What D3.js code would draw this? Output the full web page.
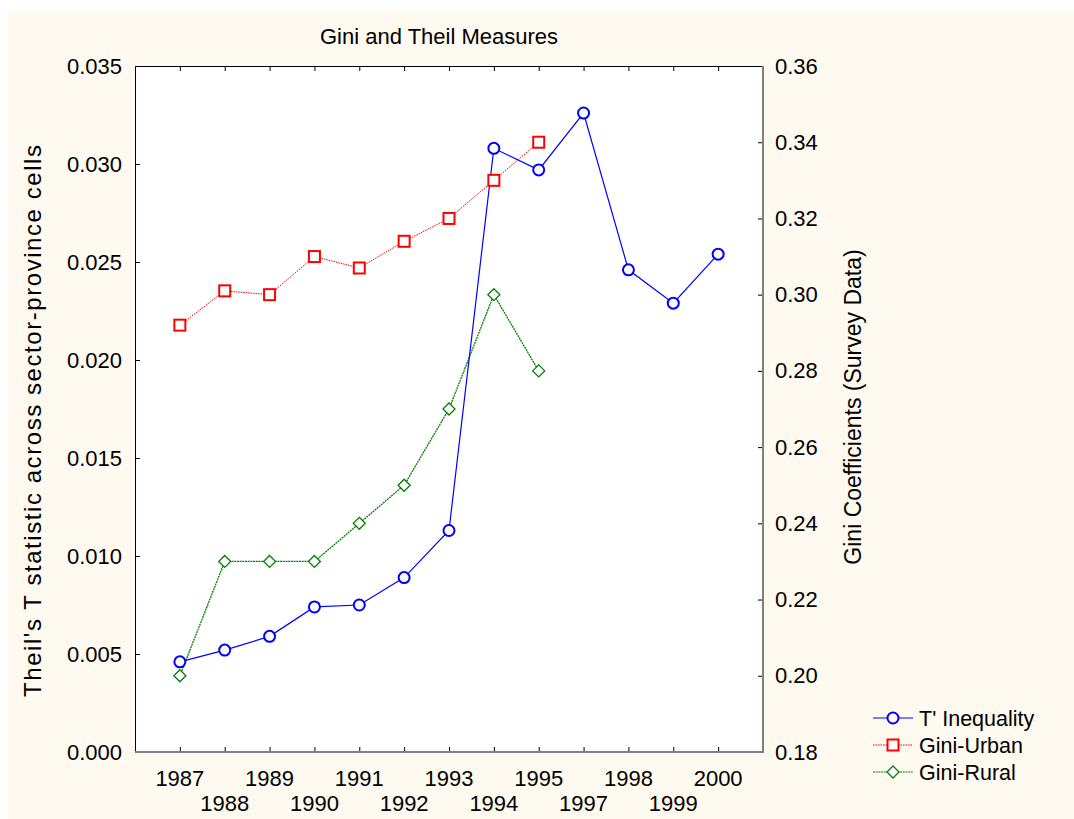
<!DOCTYPE html>
<html><head><meta charset="utf-8">
<script src="https://cdn.jsdelivr.net/npm/d3@7"></script>
<style>body{margin:0;background:#fff;} svg{display:block;font-family:"Liberation Sans",Arial,sans-serif;}</style>
</head><body><svg id="c" width="1074" height="819"></svg>
<script>
const years = ["1987","1988","1989","1990","1991","1992","1993","1994","1995","1997","1998","1999","2000"];
const theil = [0.0046,0.0052,0.0059,0.0074,0.0075,0.0089,0.0113,0.0308,0.0297,0.0326,0.0246,0.0229,0.0254];
const giniUrban = [0.292,0.301,0.300,0.310,0.307,0.314,0.320,0.330,0.340];
const giniRural = [0.200,0.230,0.230,0.230,0.240,0.250,0.270,0.300,0.280];
const leftTicks = [0,0.005,0.010,0.015,0.020,0.025,0.030,0.035];
const rightTicks = [0.18,0.20,0.22,0.24,0.26,0.28,0.30,0.32,0.34,0.36];
const legendLabels = ["T' Inequality","Gini-Urban","Gini-Rural"];
const title = "Gini and Theil Measures";
const yLabelLeft = "Theil's T statistic across sector-province cells";
const yLabelRight = "Gini Coefficients (Survey Data)";

const svg = d3.select("#c");
const L=135, R=763, T=66, B=752;
svg.append("rect").attr("x",8).attr("y",10).attr("width",1066).attr("height",809).attr("fill","#fffaef");
svg.append("rect").attr("x",L).attr("y",T).attr("width",R-L).attr("height",B-T).attr("fill","#fff");

const x = d3.scalePoint().domain(years).range([L,R]).padding(1);
const yL = d3.scaleLinear().domain([0,0.035]).range([B,T]);
const yR = d3.scaleLinear().domain([0.18,0.36]).range([B,T]);
const fs = 22;

// axes
const gl = svg.append("g").attr("transform",`translate(${L},0)`)
  .call(d3.axisLeft(yL).tickValues(leftTicks).tickFormat(d3.format(".3f")).tickSizeInner(-5).tickSizeOuter(0).tickPadding(13));
const gr = svg.append("g").attr("transform",`translate(${R},0)`)
  .call(d3.axisRight(yR).tickValues(rightTicks).tickFormat(d3.format(".2f")).tickSizeInner(-5).tickSizeOuter(0).tickPadding(12));
const gb = svg.append("g").attr("transform",`translate(0,${B})`)
  .call(d3.axisBottom(x).tickSizeInner(-5).tickSizeOuter(0).tickFormat(""));
const gt = svg.append("g").attr("transform",`translate(0,${T})`)
  .call(d3.axisTop(x).tickSizeInner(-5).tickSizeOuter(0).tickFormat(""));
[gl,gr,gb,gt].forEach(g=>{g.selectAll("text").attr("font-size",fs).attr("fill","#000").attr("font-family","Liberation Sans, Arial, sans-serif");
  g.selectAll(".domain").remove(); g.selectAll(".tick line").attr("stroke","#000");});
// x labels staggered
svg.append("g").selectAll("text").data(years).join("text")
  .attr("x",d=>x(d)).attr("y",(d,i)=> i%2===0 ? 786 : 811)
  .attr("text-anchor","middle").attr("font-size",fs).text(d=>d);
// frame
svg.append("line").attr("x1",L).attr("x2",R).attr("y1",T+0.5).attr("y2",T+0.5).attr("stroke","#000");
svg.append("line").attr("x1",L+0.5).attr("x2",L+0.5).attr("y1",T).attr("y2",B).attr("stroke","#000");
svg.append("line").attr("x1",R).attr("x2",R).attr("y1",T).attr("y2",B+1).attr("stroke","#808080").attr("stroke-width",2);
svg.append("line").attr("x1",L).attr("x2",R+1).attr("y1",B).attr("y2",B).attr("stroke","#808080").attr("stroke-width",2);

// titles
svg.append("text").attr("x",439).attr("y",44).attr("text-anchor","middle").attr("font-size",22).text(title);
svg.append("text").attr("transform",`translate(41,${421}) rotate(-90)`).attr("text-anchor","middle").attr("font-size",24)
  .attr("textLength",552).attr("lengthAdjust","spacing").text(yLabelLeft);
svg.append("text").attr("transform",`translate(861,${407}) rotate(-90)`).attr("text-anchor","middle").attr("font-size",23).text(yLabelRight);

// series
const blue="#0000ff", red="#ff0000", green="#008000";
const lineT = d3.line().x((d,i)=>x(years[i])).y(d=>yL(d));
const lineR = d3.line().x((d,i)=>x(years[i])).y(d=>yR(d));
svg.append("path").attr("d",lineR(giniUrban)).attr("fill","none").attr("stroke",red).attr("stroke-width",1).attr("stroke-dasharray","1.5,1");
svg.append("path").attr("d",lineR(giniRural)).attr("fill","none").attr("stroke",green).attr("stroke-width",1.3).attr("stroke-dasharray","2,0.7");
svg.append("path").attr("d",lineT(theil)).attr("fill","none").attr("stroke",blue).attr("stroke-width",1.2);

function square(g,cx,cy){g.append("rect").attr("x",cx-5.5).attr("y",cy-5.5).attr("width",11).attr("height",11).attr("fill","#fff").attr("stroke",red).attr("stroke-width",2);}
function diamond(g,cx,cy){g.append("path").attr("d",`M${cx},${cy-6}L${cx+6},${cy}L${cx},${cy+6}L${cx-6},${cy}Z`).attr("fill","#fff").attr("stroke",green).attr("stroke-width",1.3);}
function circle(g,cx,cy){g.append("circle").attr("cx",cx).attr("cy",cy).attr("r",5.5).attr("fill","#fff").attr("stroke",blue).attr("stroke-width",2);}
const gm = svg.append("g");
giniUrban.forEach((v,i)=>square(gm,x(years[i]),yR(v)));
giniRural.forEach((v,i)=>diamond(gm,x(years[i]),yR(v)));
theil.forEach((v,i)=>circle(gm,x(years[i]),yL(v)));

// legend
const lg = svg.append("g");
const styles=[{c:blue,m:circle,da:null},{c:red,m:square,da:"1.5,1"},{c:green,m:diamond,da:"2,0.7"}];
legendLabels.forEach((t,i)=>{
  const yy = 718 + i*27;
  lg.append("line").attr("x1",873).attr("x2",913).attr("y1",yy).attr("y2",yy).attr("stroke",styles[i].c).attr("stroke-width",1.2).attr("stroke-dasharray",styles[i].da);
  styles[i].m(lg,893,yy);
  lg.append("text").attr("x",919).attr("y",yy+8).attr("font-size",21.5).text(t);
});
</script></body></html>
